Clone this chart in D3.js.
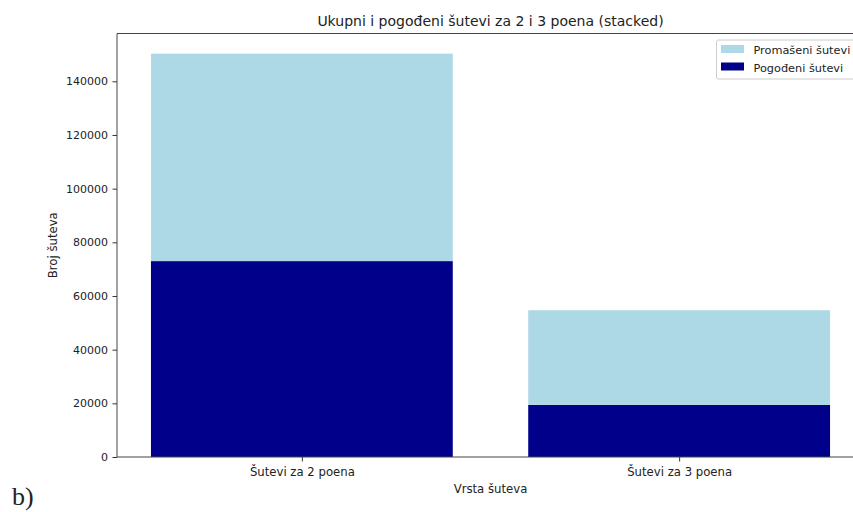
<!DOCTYPE html>
<html>
<head>
<meta charset="utf-8">
<script src="https://cdn.jsdelivr.net/npm/d3@7"></script>
<style>
  html, body { margin: 0; padding: 0; background: #fff; }
  svg { display: block; }
  text { font-family: "DejaVu Sans", sans-serif; fill: #222; }
</style>
</head>
<body>
<svg id="chart" width="853" height="512"></svg>
<script>
// Shot categories and stacked series (made at the bottom, missed on top)
const categories = ["Šutevi za 2 poena", "Šutevi za 3 poena"];
const madeShots = [73000, 19400];
const missedShots = [77300, 35300];
const yTicks = [0, 20000, 40000, 60000, 80000, 100000, 120000, 140000];
const seriesNames = ["Promašeni šutevi", "Pogođeni šutevi"];
const seriesColors = ["#add8e6", "#00008b"];

const svg = d3.select("#chart");
const margin = { left: 117, top: 33.5, right: 864, bottom: 457 };

const totals = categories.map((c, i) => madeShots[i] + missedShots[i]);
const yMax = d3.max(totals) * 1.05;

// Category positions in index units, bars 0.8 wide, 5% padding each side
const x = d3.scaleLinear().domain([-0.49, 1.49]).range([margin.left, margin.right]);
const y = d3.scaleLinear().domain([0, yMax]).range([margin.bottom, margin.top]);
const barW = x(0.8) - x(0);

const rows = categories.map((c, i) => ({ i, made: madeShots[i], missed: missedShots[i] }));
const stack = d3.stack().keys(["made", "missed"])(rows);
const colorFor = { made: seriesColors[1], missed: seriesColors[0] };

const g = svg.append("g");
stack.forEach(layer => {
  g.selectAll(null).data(layer).enter().append("rect")
    .attr("x", d => x(d.data.i) - barW / 2)
    .attr("width", barW)
    .attr("y", d => y(d[1]))
    .attr("height", d => y(d[0]) - y(d[1]))
    .attr("fill", colorFor[layer.key]);
});

// Axes
const yAxis = d3.axisLeft(y).tickValues(yTicks).tickFormat(d3.format("d")).tickSize(4.5).tickPadding(4.5);
const yg = svg.append("g").attr("transform", `translate(${margin.left},0)`).call(yAxis);
yg.select(".domain").remove();
yg.selectAll("line").attr("stroke", "#333");
yg.selectAll("text").style("font-size", "11px").attr("fill", "#222");

const xAxis = d3.axisBottom(x).tickValues([0, 1]).tickFormat(i => categories[i]).tickSize(4.5).tickPadding(6);
const xg = svg.append("g").attr("transform", `translate(0,${margin.bottom})`).call(xAxis);
xg.select(".domain").remove();
xg.selectAll("line").attr("stroke", "#333");
xg.selectAll("text").style("font-size", "11.7px").attr("fill", "#222");

// Spines
[[margin.left, margin.top, margin.left, margin.bottom],
 [margin.left, margin.bottom, margin.right, margin.bottom],
 [margin.left, margin.top, margin.right, margin.top],
 [margin.right, margin.top, margin.right, margin.bottom]].forEach(([x1, y1, x2, y2]) => {
  svg.append("line").attr("x1", x1).attr("y1", y1).attr("x2", x2).attr("y2", y2)
    .attr("stroke", "#444").attr("stroke-width", 1);
});

// Titles
const cx = (margin.left + margin.right) / 2;
svg.append("text").attr("x", cx).attr("y", 26).attr("text-anchor", "middle")
  .style("font-size", "14px").text("Ukupni i pogođeni šutevi za 2 i 3 poena (stacked)");
svg.append("text").attr("x", cx).attr("y", 493).attr("text-anchor", "middle")
  .style("font-size", "11.7px").text("Vrsta šuteva");
svg.append("text").attr("transform", `translate(57,${(margin.top + margin.bottom) / 2}) rotate(-90)`)
  .attr("text-anchor", "middle").style("font-size", "11.7px").text("Broj šuteva");

// Legend
const lg = svg.append("g").attr("transform", "translate(716,39.5)");
lg.append("rect").attr("x", 0.5).attr("y", 0.5).attr("width", 150).attr("height", 39).attr("rx", 2)
  .attr("fill", "#fff").attr("fill-opacity", 0.8).attr("stroke", "#ccc");
seriesNames.forEach((name, k) => {
  lg.append("rect").attr("x", 5).attr("y", 5.5 + k * 17.5).attr("width", 23).attr("height", 8)
    .attr("fill", seriesColors[k]);
  lg.append("text").attr("x", 37.5).attr("y", 14.5 + k * 17.5).style("font-size", "11.3px").text(name);
});

// Panel label
svg.append("text").attr("x", 12).attr("y", 505)
  .style("font-family", "'Liberation Serif', 'Times New Roman', serif")
  .style("font-size", "26px").attr("fill", "#000").text("b)");
</script>
</body>
</html>
